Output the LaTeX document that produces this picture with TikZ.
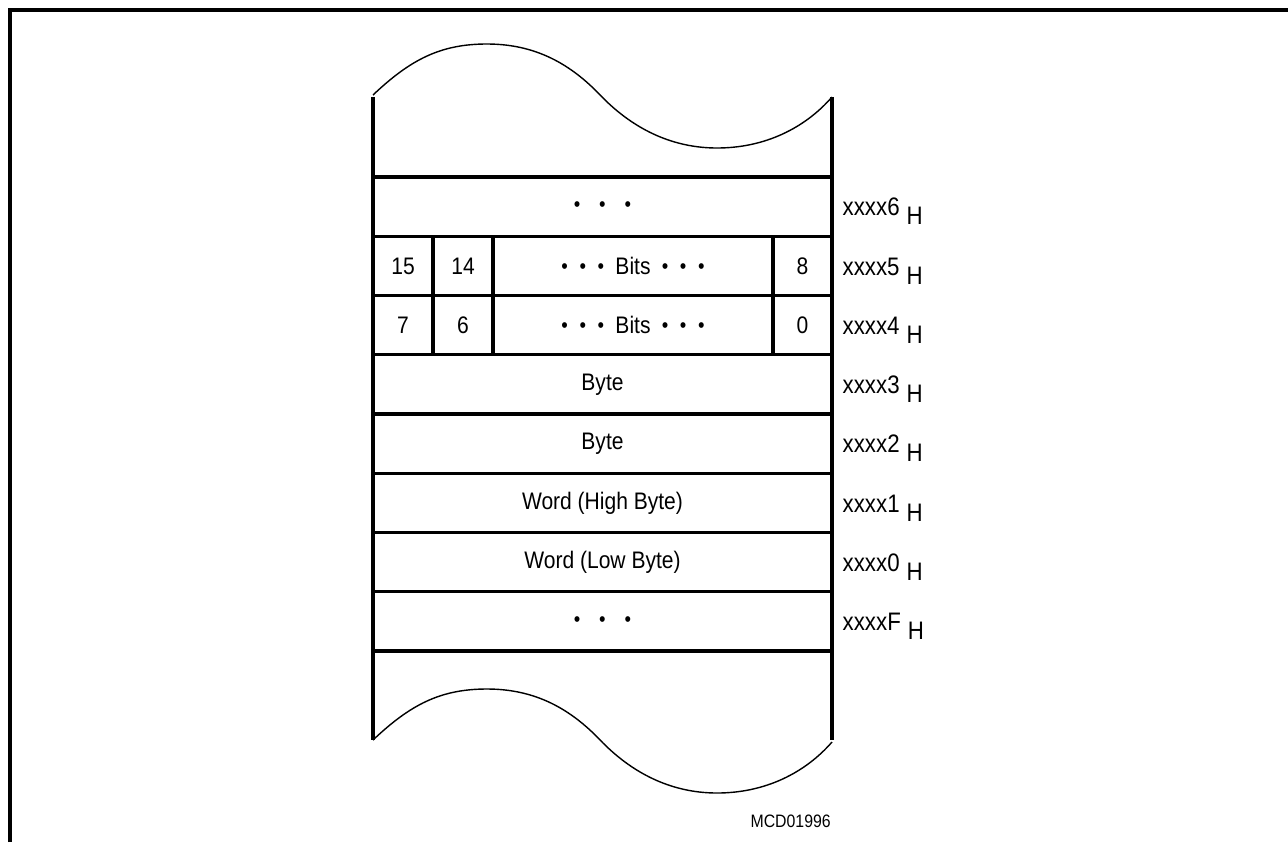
\documentclass[tikz,border=0pt]{standalone}
\usepackage{fontspec}
\setmainfont{Liberation Sans}[FakeStretch=0.88]
\usetikzlibrary{positioning}

\definecolor{ink}{HTML}{000000}
\newcommand{\addr}[1]{xxxx#1\hspace{5pt}\raisebox{-6.5pt}{H}}
\newcommand{\threedots}[1]{{\fontsize{15}{15}\selectfont
  \textbullet\hspace{#1}\textbullet\hspace{#1}\textbullet}}

\begin{document}
\begin{tikzpicture}[x=0.025cm, y=-0.025cm,
  row/.style={draw=ink, line width=2.2pt, minimum width=11.475cm,
              minimum height=1.48cm, inner sep=0pt,
              font=\fontsize{17}{17}\selectfont},
  cell/.style={row, minimum width=#1},
  addr/.style={font=\fontsize{18}{18}\selectfont, inner sep=0pt,
               anchor=base west},
  wall/.style={draw=ink, line width=2.8pt},
  wave/.style={draw=ink, line width=1pt},
  frame/.style={draw=ink, line width=2.2pt}]
  \useasboundingbox (0,0) rectangle (1288,842);
  % Frame
  \draw[frame] (10,842) -- (10,10) -- (1288,10);
  % Plain rows
  \foreach \n/\y/\t in {r6/206.6/{\threedots{13.5pt}}, r3/384.4/Byte,
      r2/443.6/Byte, r1/502.9/{Word (High Byte)},
      r0/562.1/{Word (Low Byte)}, rF/621.4/{\threedots{13.5pt}}}
    \node[row] (\n) at (602.5,\y) {\t};
  % Bit rows
  \foreach \r/\y/\a/\b/\c in {5/265.9/15/14/8, 4/325.1/7/6/0} {
    \node[cell=1.5cm] (b\r-a) at (403,\y) {\a};
    \node[cell=1.5cm] (b\r-b) at (463,\y) {\b};
    \node[cell=7cm] (b\r-m) at (633,\y)
      {\raisebox{1pt}{\threedots{8.3pt}}\hspace{8pt}Bits\hspace{8pt}\raisebox{1pt}{\threedots{8.3pt}}};
    \node[cell=1.475cm] (b\r-c) at (802.5,\y) {\c};
  }
  % Addresses
  \foreach \n/\d in {r6/6, b5-c/5, b4-c/4, r3/3, r2/2, r1/1, r0/0, rF/F}
    \node[addr] (a\d) at ([xshift=0.22cm, yshift=-6.5pt]\n.east) {\addr{\d}};
  % Walls
  \draw[wall] (373,97) -- (373,740);
  \draw[wall] (832,97) -- (832,740);
  % Torn edges
  \foreach \s in {0,645}
    \draw[wave, shift={(0,\s)}] (373,95) .. controls (410,60) and (440,44) .. (487,44)
      .. controls (540,44) and (575,68) .. (603,98)
      .. controls (640,135) and (680,148) .. (717,148)
      .. controls (765,148) and (805,128) .. (832,97);
  % Figure tag
  \node[font=\fontsize{12.8}{13}\selectfont, anchor=east, inner sep=0pt]
    (tag) at (831,821) {MCD01996};
\end{tikzpicture}
\end{document}
